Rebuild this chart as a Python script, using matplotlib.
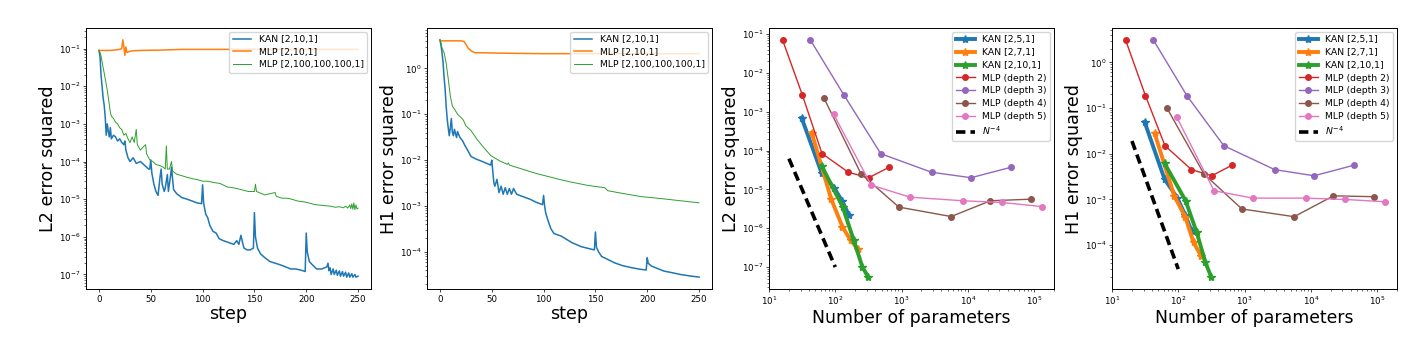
import matplotlib
matplotlib.use("Agg")
import matplotlib.pyplot as plt

# ---- training curves ----
l2_kan_step = [0, 1, 2, 3, 4, 5, 6, 7, 8, 9, 10, 11, 12, 14, 16, 18, 20, 22, 24, 25,
               26, 28, 30, 33, 36, 40, 44, 48, 49, 50, 51, 53, 55, 57, 59, 60, 61, 63,
               64, 66, 67, 69, 70, 72, 75, 80, 85, 90, 95, 99, 100, 101, 103, 105, 107,
               110, 113, 116, 120, 125, 130, 133, 135, 137, 139, 140, 143, 146, 149,
               150, 151, 153, 156, 160, 165, 170, 175, 180, 185, 190, 195, 199, 200,
               201, 203, 206, 210, 215, 220, 221, 222, 223, 224, 226, 227, 229, 230,
               232, 233, 235, 236, 238, 239, 241, 242, 244, 245, 247, 248, 250]
l2_kan_val = [8.9e-2, 6.3e-2, 2.0e-2, 1.0e-2, 5.0e-3, 3.2e-3, 1.6e-3, 5.0e-4, 1.0e-3,
              6.3e-4, 4.5e-4, 7.9e-4, 4.0e-4, 5.0e-4, 4.5e-4, 3.5e-4, 4.0e-4, 3.2e-4,
              2.8e-4, 3.5e-4, 2.0e-4, 1.26e-4, 1.0e-4, 1.26e-4, 8.9e-5, 1.0e-4, 7.9e-5,
              6.3e-5, 6.3e-5, 1.1e-4, 5.0e-5, 2.5e-5, 1.6e-5, 1.26e-5, 4.0e-5, 6.3e-5,
              2.5e-5, 1.6e-5, 2.0e-5, 4.5e-5, 1.6e-5, 4.0e-5, 7.1e-5, 1.8e-5, 1.4e-5,
              1.1e-5, 1.0e-5, 8.9e-6, 7.9e-6, 7.6e-6, 2.4e-5, 7.9e-6, 4.0e-6, 3.2e-6,
              2.0e-6, 1.4e-6, 1.26e-6, 8.9e-7, 7.9e-7, 7.1e-7, 6.3e-7, 7.9e-7, 6.3e-7,
              1.1e-6, 6.3e-7, 5.0e-7, 4.5e-7, 4.5e-7, 5.0e-7, 4.4e-6, 1.0e-6, 5.0e-7,
              3.5e-7, 2.8e-7, 2.2e-7, 2.0e-7, 1.8e-7, 1.6e-7, 1.4e-7, 1.4e-7, 1.3e-7,
              1.2e-7, 1.26e-6, 4.0e-7, 2.2e-7, 1.8e-7, 1.4e-7, 1.4e-7, 1.6e-7, 2.0e-7,
              1.26e-7, 1.5e-7, 1.0e-7, 1.4e-7, 1.0e-7, 1.3e-7, 9.5e-8, 1.25e-7, 9.0e-8,
              1.2e-7, 9.0e-8, 1.15e-7, 8.5e-8, 1.1e-7, 8.5e-8, 1.05e-7, 8.5e-8, 1.0e-7,
              8.5e-8, 9.0e-8]

l2_mlp_small_step = [0, 5, 10, 15, 20, 22, 23, 24, 25, 26, 27, 29, 32, 40, 60, 80, 100,
                     150, 200, 250]
l2_mlp_small_val = [8.9e-2, 8.9e-2, 8.9e-2, 9.1e-2, 9.5e-2, 1.0e-1, 1.7e-1, 1.1e-1,
                    6.6e-2, 1.1e-1, 7.9e-2, 8.3e-2, 8.7e-2, 8.9e-2, 9.1e-2, 9.5e-2,
                    9.5e-2, 9.5e-2, 9.5e-2, 9.5e-2]

l2_mlp_big_step = [0, 1, 2, 4, 6, 8, 9, 10, 11, 12, 14, 16, 18, 20, 22, 24, 26, 28, 30,
                   32, 34, 36, 37, 40, 43, 45, 46, 49, 52, 55, 58, 62, 64, 65, 66, 68,
                   70, 71, 75, 80, 85, 90, 95, 100, 105, 110, 117, 124, 130, 137, 144,
                   150, 151, 152, 160, 170, 171, 176, 183, 192, 200, 208, 216, 224, 228,
                   232, 236, 238, 240, 242, 243, 244, 245, 246, 247, 248, 249, 250]
l2_mlp_big_val = [8.9e-2, 7.9e-2, 6.3e-2, 3.2e-2, 1.6e-2, 7.9e-3, 5.0e-3, 3.2e-3,
                  2.0e-3, 1.6e-3, 1.4e-3, 1.1e-3, 1.0e-3, 7.9e-4, 7.1e-4, 5.0e-4,
                  5.6e-4, 4.0e-4, 3.2e-4, 4.5e-4, 3.2e-4, 7.1e-4, 2.8e-4, 2.0e-4,
                  2.5e-4, 2.8e-4, 1.6e-4, 1.1e-4, 1.0e-4, 8.3e-5, 7.9e-5, 7.1e-5,
                  6.3e-5, 2.6e-4, 6.3e-5, 6.3e-5, 1.0e-4, 5.6e-5, 4.6e-5, 4.2e-5,
                  3.8e-5, 3.5e-5, 3.3e-5, 3.0e-5, 3.0e-5, 2.8e-5, 2.6e-5, 2.1e-5,
                  2.0e-5, 1.8e-5, 1.6e-5, 1.6e-5, 2.5e-5, 1.6e-5, 1.3e-5, 1.5e-5,
                  1.2e-5, 1.07e-5, 1.05e-5, 8.9e-6, 8.3e-6, 7.2e-6, 6.8e-6, 6.5e-6,
                  6.1e-6, 6.3e-6, 5.9e-6, 6.5e-6, 5.8e-6, 7.0e-6, 5.6e-6, 7.5e-6,
                  5.4e-6, 8.0e-6, 5.3e-6, 7.0e-6, 5.5e-6, 5.8e-6]

h1_kan_step = [0, 1, 2, 3, 4, 5, 6, 7, 8, 9, 10, 11, 12, 13, 14, 16, 17, 19, 22, 24,
               27, 30, 35, 40, 45, 49, 50, 52, 53, 55, 57, 59, 61, 63, 65, 67, 69, 71,
               74, 80, 87, 93, 99, 100, 101, 102, 104, 107, 110, 117, 127, 136, 144,
               149, 150, 151, 153, 156, 162, 168, 176, 185, 192, 199, 200, 201, 204,
               210, 216, 224, 232, 240, 250]
h1_kan_val = [4.2, 3.2, 2.2, 1.35, 0.63, 0.35, 0.15, 7.9e-2, 5.0e-2, 3.4e-2, 5.0e-2,
              8.1e-2, 4.0e-2, 3.4e-2, 4.7e-2, 3.1e-2, 4.2e-2, 3.2e-2, 2.6e-2, 2.1e-2,
              1.6e-2, 1.2e-2, 1.05e-2, 9.5e-3, 8.5e-3, 7.8e-3, 1.0e-2, 3.2e-3, 2.7e-3,
              3.8e-3, 1.95e-3, 2.7e-3, 1.8e-3, 2.5e-3, 1.8e-3, 2.4e-3, 1.8e-3, 2.4e-3,
              1.8e-3, 1.6e-3, 1.4e-3, 1.2e-3, 1.07e-3, 1.7e-3, 1.0e-3, 7.1e-4, 5.0e-4,
              3.2e-4, 2.5e-4, 2.2e-4, 1.6e-4, 1.3e-4, 1.17e-4, 1.1e-4, 2.7e-4, 1.26e-4,
              1.0e-4, 7.9e-5, 6.8e-5, 5.8e-5, 5.0e-5, 4.5e-5, 4.2e-5, 4.0e-5, 7.4e-5,
              5.6e-5, 4.9e-5, 4.3e-5, 3.8e-5, 3.5e-5, 3.2e-5, 3.0e-5, 2.8e-5]

h1_mlp_small_step = [0, 5, 10, 15, 20, 23, 25, 27, 29, 31, 34, 40, 60, 100, 150, 200,
                     250]
h1_mlp_small_val = [4.0, 4.0, 4.0, 4.0, 4.0, 3.9, 3.4, 2.8, 2.55, 2.35, 2.2, 2.2, 2.15,
                    2.1, 2.1, 2.1, 2.1]

h1_mlp_big_step = [0, 1, 2, 4, 6, 8, 10, 12, 14, 17, 22, 23, 25, 30, 36, 42, 49, 58,
                   65, 66, 67, 80, 93, 106, 115, 127, 143, 159, 162, 175, 194, 213, 232,
                   250]
h1_mlp_big_val = [4.2, 3.6, 2.8, 2.2, 1.3, 0.59, 0.25, 0.15, 0.13, 0.1, 7.8e-2, 7.1e-2,
                  5.6e-2, 4.4e-2, 2.8e-2, 1.9e-2, 1.26e-2, 9.5e-3, 8.1e-3, 8.7e-3,
                  7.8e-3, 6.3e-3, 5.1e-3, 4.3e-3, 3.8e-3, 3.3e-3, 2.8e-3, 2.5e-3,
                  2.15e-3, 1.9e-3, 1.6e-3, 1.45e-3, 1.3e-3, 1.17e-3]

# ---- scaling with number of parameters ----
kan5_n = [31, 62, 96, 128, 160]
kan7_n = [44, 87, 128, 170, 220]
kan10_n = [62, 129, 190, 257, 315]
mlp2_n = [16, 32, 63, 158, 320, 645]
mlp3_n = [42, 135, 487, 2850, 11200, 44500]
mlp4_n = [68, 245, 912, 5600, 22000, 89000]
mlp5_n = [95, 347, 1340, 8350, 33000, 133000]
ref_n = [20, 100]

l2_kan5 = [7.0e-4, 2.7e-5, 1.1e-5, 4.9e-6, 2.2e-6]
l2_kan7 = [2.9e-4, 5.6e-6, 1.1e-6, 4.9e-7, 2.9e-7]
l2_kan10 = [4.1e-5, 3.6e-6, 4.9e-7, 1.0e-7, 5.5e-8]
l2_mlp2 = [7.1e-2, 2.65e-3, 8.4e-5, 2.75e-5, 2.0e-5, 3.7e-5]
l2_mlp3 = [7.1e-2, 2.7e-3, 8.3e-5, 2.76e-5, 2.0e-5, 3.7e-5]
l2_mlp4 = [2.2e-3, 2.5e-5, 3.5e-6, 2.0e-6, 5.1e-6, 5.6e-6]
l2_mlp5 = [8.5e-4, 1.3e-5, 6.3e-6, 5.1e-6, 4.6e-6, 3.6e-6]
l2_ref = [6.2e-5, 1.0e-7]

h1_kan5 = [5.0e-2, 2.8e-3, 1.1e-3, 4.5e-4, 2.0e-4]
h1_kan7 = [2.8e-2, 1.2e-3, 4.1e-4, 1.15e-4, 5.9e-5]
h1_kan10 = [6.2e-3, 9.4e-4, 1.9e-4, 4.2e-5, 2.0e-5]
h1_mlp2 = [3.1, 0.186, 1.5e-2, 4.5e-3, 3.3e-3, 5.6e-3]
h1_mlp3 = [3.1, 0.186, 1.5e-2, 4.5e-3, 3.3e-3, 5.6e-3]
h1_mlp4 = [9.8e-2, 3.6e-3, 6.2e-4, 4.2e-4, 1.2e-3, 1.15e-3]
h1_mlp5 = [6.3e-2, 1.55e-3, 1.07e-3, 1.07e-3, 1.0e-3, 8.9e-4]
h1_ref = [1.9e-2, 3.0e-5]

# decades that get a labelled major tick
l2_yticks = [1e-7, 1e-6, 1e-5, 1e-4, 1e-3, 1e-2, 1e-1]
h1_yticks = [1e-4, 1e-3, 1e-2, 1e-1, 1e0]
n_xticks = [1e1, 1e2, 1e3, 1e4, 1e5]

W, H = 1416, 346
fig = plt.figure(figsize=(W / 100, H / 100), dpi=100)


def make_axes(left_px):
    ax = fig.add_axes([left_px / W, 57 / H, 285 / W, 261 / H])
    ax.set_yscale('log')
    for s in ax.spines.values():
        s.set_linewidth(0.7)
    ax.tick_params(which='major', labelsize=6.2, length=2.2, width=0.5, pad=2)
    ax.tick_params(which='minor', length=1.3, width=0.4)
    return ax


def style_training(ax, ylabel, yticks):
    ax.set_xlabel('step', fontsize=12.6, labelpad=1)
    ax.set_ylabel(ylabel, fontsize=12.6, labelpad=1)
    ax.set_xticks([0, 50, 100, 150, 200, 250])
    ax.set_yticks(yticks)
    ax.legend(loc='upper right', fontsize=6.7, handlelength=2.0, borderpad=0.4,
              labelspacing=0.35, borderaxespad=0.4)


# L2 training
ax1 = make_axes(86)
ax1.plot(l2_kan_step, l2_kan_val, color='C0', lw=1.1, label='KAN [2,10,1]')
ax1.plot(l2_mlp_small_step, l2_mlp_small_val, color='C1', lw=1.1, label='MLP [2,10,1]')
ax1.plot(l2_mlp_big_step, l2_mlp_big_val, color='C2', lw=0.7,
         label='MLP [2,100,100,100,1]')
style_training(ax1, 'L2 error squared', l2_yticks)

# H1 training
ax2 = make_axes(427)
ax2.plot(h1_kan_step, h1_kan_val, color='C0', lw=1.1, label='KAN [2,10,1]')
ax2.plot(h1_mlp_small_step, h1_mlp_small_val, color='C1', lw=1.1, label='MLP [2,10,1]')
ax2.plot(h1_mlp_big_step, h1_mlp_big_val, color='C2', lw=0.7,
         label='MLP [2,100,100,100,1]')
style_training(ax2, 'H1 error squared', h1_yticks)


def scaling(ax, kans, mlps, ref, ylabel, yticks):
    ax.set_xscale('log')
    for n, v, lab, c in zip([kan5_n, kan7_n, kan10_n], kans,
                            ['KAN [2,5,1]', 'KAN [2,7,1]', 'KAN [2,10,1]'],
                            ['C0', 'C1', 'C2']):
        ax.plot(n, v, marker='*', color=c, lw=2.8, markersize=6, label=lab)
    for n, v, lab, c in zip([mlp2_n, mlp3_n, mlp4_n, mlp5_n], mlps,
                            ['MLP (depth 2)', 'MLP (depth 3)', 'MLP (depth 4)',
                             'MLP (depth 5)'], ['C3', 'C4', 'C5', 'C6']):
        ax.plot(n, v, marker='o', color=c, lw=1.0, markersize=4, label=lab)
    ax.plot(ref_n, ref, ls='--', color='black', lw=2.6, dashes=(2.6, 1.4),
            label=r'$N^{-4}$')
    ax.set_xlim(10, 2e5)
    ax.set_xticks(n_xticks)
    ax.set_yticks(yticks)
    ax.set_xlabel('Number of parameters', fontsize=12.4, labelpad=1)
    ax.set_ylabel(ylabel, fontsize=12.6, labelpad=1)
    ax.legend(loc='upper right', fontsize=6.7, handlelength=2.0, borderpad=0.4,
              labelspacing=0.4, borderaxespad=0.4)


ax3 = make_axes(769)
scaling(ax3, [l2_kan5, l2_kan7, l2_kan10], [l2_mlp2, l2_mlp3, l2_mlp4, l2_mlp5],
        l2_ref, 'L2 error squared', l2_yticks)

ax4 = make_axes(1112)
scaling(ax4, [h1_kan5, h1_kan7, h1_kan10], [h1_mlp2, h1_mlp3, h1_mlp4, h1_mlp5],
        h1_ref, 'H1 error squared', h1_yticks)

fig.savefig('out.png', dpi=100)
